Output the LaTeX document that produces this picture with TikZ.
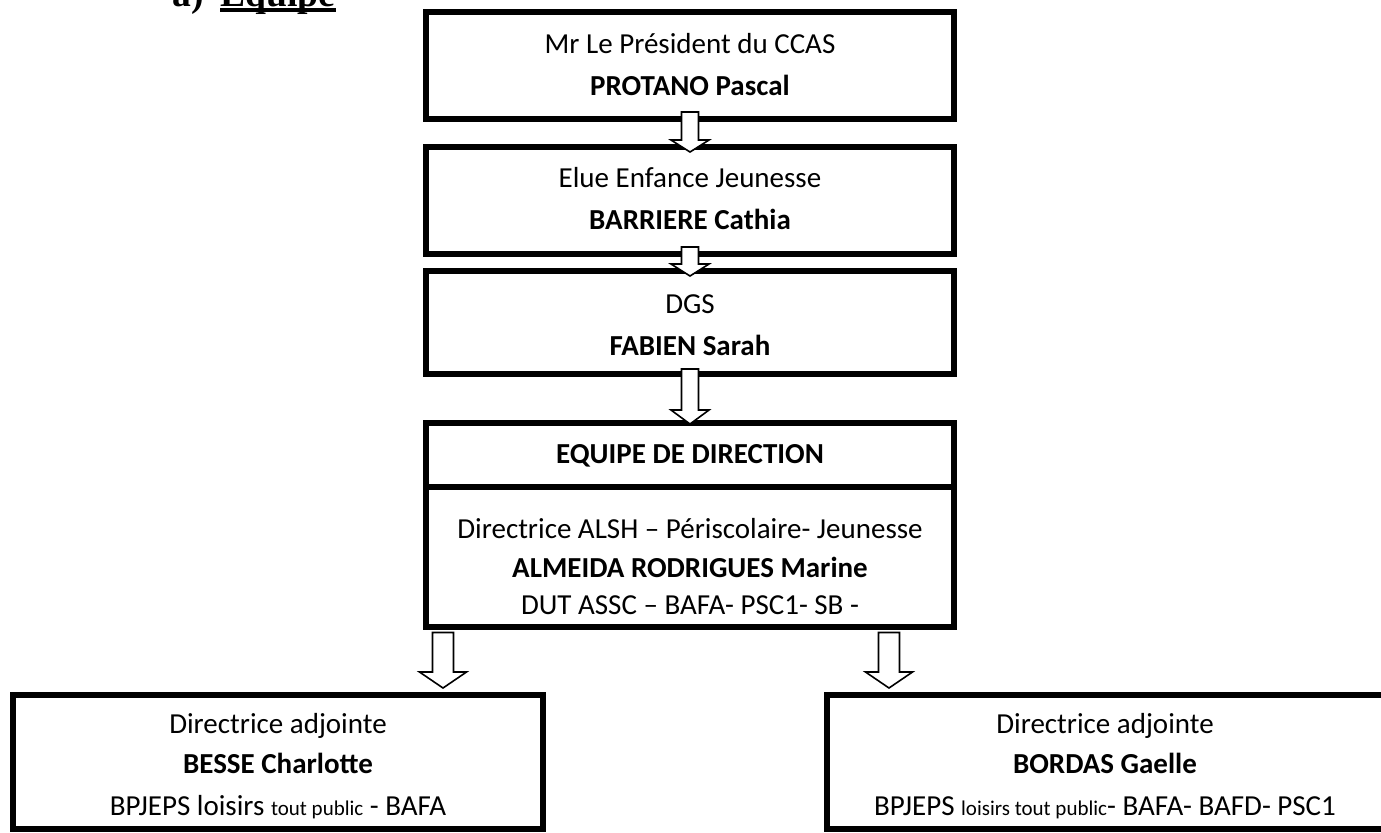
\documentclass[tikz,border=0pt]{standalone}
\usepackage{fontspec}
\setmainfont{Carlito}
\newfontfamily\titlefont{Liberation Serif}
\usetikzlibrary{calc}

\tikzset{
  box/.style={draw, line width=3pt, inner sep=0pt},
  line/.style={anchor=base, inner sep=0pt, font=\fontsize{14.5}{17}\selectfont},
  arrowbox/.style={draw, fill=white, line width=0.8pt, line join=miter},
}
\newcommand{\petit}[1]{{\fontsize{10.5}{12}\selectfont #1}}
% block arrow: from, to, shaft half width, head half width, head length
\newcommand{\blockarrow}[5]{%
  \draw[arrowbox] let \p1=#1, \p2=#2 in
    (\x1-#3,\y1) -- (\x1+#3,\y1) -- (\x1+#3,\y2+#5) -- (\x1+#4,\y2+#5)
    -- (\x1,\y2) -- (\x1-#4,\y2+#5) -- (\x1-#3,\y2+#5) -- cycle;}

\begin{document}
\begin{tikzpicture}[x=0.5pt, y=-0.5pt]
    \useasboundingbox (0,0) rectangle (1381,832);
    % title
    \node[anchor=base west, inner sep=0pt, font=\titlefont\bfseries\fontsize{18.8}{20}\selectfont] (titleA) at (172,6) {a)};
    \node[anchor=base west, inner sep=0pt, font=\titlefont\bfseries\fontsize{18.8}{20}\selectfont] (titleB) at (220,6) {Equipe};
    \draw[line width=1.6pt] ([yshift=-2pt]titleB.base west) -- ([yshift=-2pt]titleB.base east);
    % boxes
    \node[box, minimum width=264pt, minimum height=53.5pt] (president) at (690,65.5) {};
    \node[box, minimum width=264pt, minimum height=53.5pt] (elue) at (690,200.5) {};
    \node[box, minimum width=264pt, minimum height=51.5pt] (dgs) at (690,322.5) {};
    \node[box, minimum width=264pt, minimum height=101.75pt] (direction) at (690,524.75) {};
    \draw[line width=3pt] ([yshift=-33.5pt]direction.north west) -- ([yshift=-33.5pt]direction.north east);
    \node[box, minimum width=265pt, minimum height=67pt] (adjointeA) at (278,762) {};
    \node[box, minimum width=280pt, minimum height=67pt] (adjointeB) at (1107,762) {};
    % texts
    \node[line] (presidentRole) at (690,53) {Mr Le Président du CCAS};
    \node[line] (presidentName) at (690,95) {\bfseries PROTANO Pascal};
    \node[line] (elueRole) at (690,187) {Elue Enfance Jeunesse};
    \node[line] (elueName) at (690,229) {\bfseries BARRIERE Cathia};
    \node[line] (dgsRole) at (690,313) {DGS};
    \node[line] (dgsName) at (690,355) {\bfseries FABIEN Sarah};
    \node[line] (directionTitle) at (690,463) {\bfseries EQUIPE DE DIRECTION};
    \node[line] (directionRole) at (690,538) {Directrice ALSH – Périscolaire- Jeunesse};
    \node[line] (directionName) at (690,577) {\bfseries ALMEIDA RODRIGUES Marine};
    \node[line] (directionDip) at (690,614) {DUT ASSC – BAFA- PSC1- SB -};
    \node[line] (adjointeARole) at (278,733) {Directrice adjointe};
    \node[line] (adjointeAName) at (278,773) {\bfseries BESSE Charlotte};
    \node[line] (adjointeADip) at (278,815) {BPJEPS loisirs \petit{tout public} - BAFA};
    \node[line] (adjointeBRole) at (1105,733) {Directrice adjointe};
    \node[line] (adjointeBName) at (1105,773) {\bfseries BORDAS Gaelle};
    \node[line] (adjointeBDip) at (1105,815) {BPJEPS \petit{loisirs tout public}- BAFA- BAFD- PSC1};
    % arrows
    \blockarrow{([yshift=5pt]president.south)}{([yshift=-4pt]elue.north)}{4.25pt}{9.5pt}{6pt}
    \blockarrow{([yshift=5pt]elue.south)}{([yshift=-4pt]dgs.north)}{4.25pt}{9.5pt}{6pt}
    \blockarrow{([yshift=4pt]dgs.south)}{([yshift=-2pt]direction.north)}{4.25pt}{9.5pt}{7pt}
    \blockarrow{([xshift=10pt,yshift=-1.5pt]direction.south west)}{([yshift=2pt]adjointeA.north)}{5.25pt}{11.75pt}{8pt}
    \blockarrow{([xshift=-34pt,yshift=-1.5pt]direction.south east)}{([yshift=2pt]adjointeB.north)}{5.25pt}{11.75pt}{8pt}
\end{tikzpicture}
\end{document}
